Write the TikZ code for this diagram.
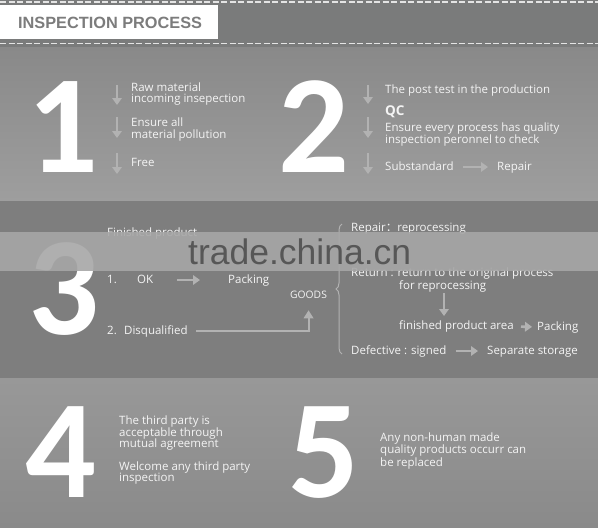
\documentclass[tikz,border=0pt]{standalone}
\usepackage{fontspec}
\setmainfont{Open Sans}
\newfontfamily\digitfont{Carlito}
\newfontfamily\headfont{Liberation Sans}
\newfontfamily\cjk{Noto Sans CJK SC}
\usetikzlibrary{arrows.meta,decorations.pathreplacing}
\definecolor{hdrbg}{HTML}{7A7B7B}
\definecolor{secA}{HTML}{898989}
\definecolor{secAb}{HTML}{9E9E9E}
\definecolor{secB}{HTML}{7E7E7E}
\definecolor{secC}{HTML}{989898}
\definecolor{secCb}{HTML}{8A8A8A}
\definecolor{dashcol}{HTML}{E4E4E4}
\definecolor{headtxt}{HTML}{7C7C7C}
\definecolor{bodytxt}{HTML}{F4F4F4}
\definecolor{arrowgray}{HTML}{B2B2B2}
\definecolor{bandcol}{HTML}{A7A7A7}
\definecolor{wmtxt}{HTML}{575757}
\begin{document}
\begin{tikzpicture}[x=1pt,y=-1pt,
  bignum/.style={text=white, inner sep=0pt, anchor=base, text height=89pt, text depth=0pt,
    font=\digitfont\bfseries\fontsize{140}{140}\selectfont},
  txt/.style={text=bodytxt, inner sep=0pt, anchor=west, align=left,
    font=\fontsize{11.5}{11.5}\selectfont},
  oneline/.style={txt, text height=8.5pt, text depth=2.5pt},
  arr/.style={draw=arrowgray, line width=2.6pt, -{Triangle[width=9.5pt,length=7pt]}},
  thinarr/.style={draw=arrowgray, line width=2pt, -{Triangle[width=9.5pt,length=8pt]}},
  dashline/.style={draw=dashcol, line width=1.3pt, dash pattern=on 6pt off 2.5pt}
]
\useasboundingbox (0,0) rectangle (598,528);
% backgrounds
\fill[hdrbg] (0,0) rectangle (598,47);
\shade[top color=secA, bottom color=secAb] (0,47) rectangle (598,201);
\fill[secB] (0,201) rectangle (598,378);
\shade[top color=secC, bottom color=secCb] (0,378) rectangle (598,528);
% header
\fill[white] (0,5) rectangle (218,39);
\draw[dashline] (0,2) -- (598,2);
\draw[dashline] (0,43.5) -- (598,43.5);
\node[text=headtxt, inner sep=0pt, anchor=west, font=\headfont\bfseries\fontsize{16.3}{16.3}\selectfont] (title) at (18,23) {INSPECTION PROCESS};
% big numbers
\node[bignum] (n1) at (63,172) {1};
\node[bignum] (n2) at (314,172) {2};
\node[bignum] (n3) at (64,334) {3};
\node[bignum] (n4) at (61,497) {4};
\node[bignum] (n5) at (324,497) {5};
% section 1
\coordinate (d1a) at (117,85); \coordinate (d1b) at (117,105);
\coordinate (d2a) at (117,117); \coordinate (d2b) at (117,138);
\coordinate (d3a) at (117,153); \coordinate (d3b) at (117,174);
\draw[arr] (d1a) -- (d1b);
\draw[arr] (d2a) -- (d2b);
\draw[arr] (d3a) -- (d3b);
\node[txt] (s1a) at (131,94) {Raw material\\incoming insepection};
\node[txt] (s1b) at (131,129.5) {Ensure all\\material pollution};
\node[oneline] (s1c) at (131,163) {Free};
% section 2
\coordinate (e1a) at (368,85); \coordinate (e1b) at (368,104);
\coordinate (e2a) at (368,117); \coordinate (e2b) at (368,138);
\coordinate (e3a) at (368,153); \coordinate (e3b) at (368,174);
\draw[arr] (e1a) -- (e1b);
\draw[arr] (e2a) -- (e2b);
\draw[arr] (e3a) -- (e3b);
\node[oneline] (s2a) at (385,90) {The post test in the production};
\node[txt, font=\bfseries\fontsize{13.5}{13.5}\selectfont] (qc) at (385,111.5) {QC};
\node[txt] (s2b) at (385,134.5) {Ensure every process has quality\\inspection peronnel to check};
\node[oneline] (sub) at (385,167) {Substandard};
\node[oneline] (rep) at (497,167) {Repair};
\draw[arr] (sub.east) -- (rep.west) [shorten <=9pt, shorten >=9pt];
% section 3
\node[oneline] (fin) at (107,233) {Finished product};
\node[oneline] (one) at (107,280) {1.};
\node[oneline] (ok) at (137,280) {OK};
\node[oneline] (pack1) at (228,280) {Packing};
\draw[arr] (ok.east) -- (pack1.west) [shorten <=24pt, shorten >=28pt];
\node[txt, font=\fontsize{10.3}{10.3}\selectfont, text height=7.4pt, text depth=0pt] (goods) at (290,294.4) {GOODS};
\node[oneline] (two) at (107,331) {2.};
\node[oneline] (disq) at (124,331) {Disqualified};
\draw[thinarr] (disq.east) -| (goods.south) [shorten <=8pt, shorten >=12pt];
\draw[arrowgray, line width=1pt, decorate, decoration={brace, amplitude=6pt, aspect=0.5}] (342,354) -- (342,224);
\node[oneline] (repair) at (351,228) {Repair{\cjk ：}reprocessing};
\node[txt] (ret) at (351,280) {Return : return to the original process\\\hspace*{48pt}for reprocessing};
\coordinate (f1a) at (444,293); \coordinate (f1b) at (444,316);
\draw[arr] (f1a) -- (f1b);
\node[oneline] (area) at (399,326.5) {finished product area};
\node[oneline] (pack2) at (537,327) {Packing};
\draw[arr] (area.east) -- (pack2.west) [shorten <=7pt, shorten >=5pt];
\node[oneline] (def) at (351,351) {Defective : signed};
\node[oneline] (sep) at (487,351) {Separate storage};
\draw[arr] (def.east) -- (sep.west) [shorten <=9pt, shorten >=9pt];
% watermark band
\fill[bandcol, opacity=0.9] (0,232) rectangle (598,271);
\node[text=wmtxt, inner sep=0pt, anchor=base west, text depth=0pt, font=\headfont\fontsize{35.5}{35.5}\selectfont] (wm) at (188,264) {trade.china.cn};
% section 4
\node[txt] (s4a) at (119,433.3) {The third party is\\acceptable through\\mutual agreement};
\node[txt] (s4b) at (119,472.8) {Welcome any third party\\inspection};
% section 5
\node[txt, font=\fontsize{11.5}{12.5}\selectfont] (s5) at (380,451) {Any non-human made\\quality products occurr can\\be replaced};
\end{tikzpicture}
\end{document}
